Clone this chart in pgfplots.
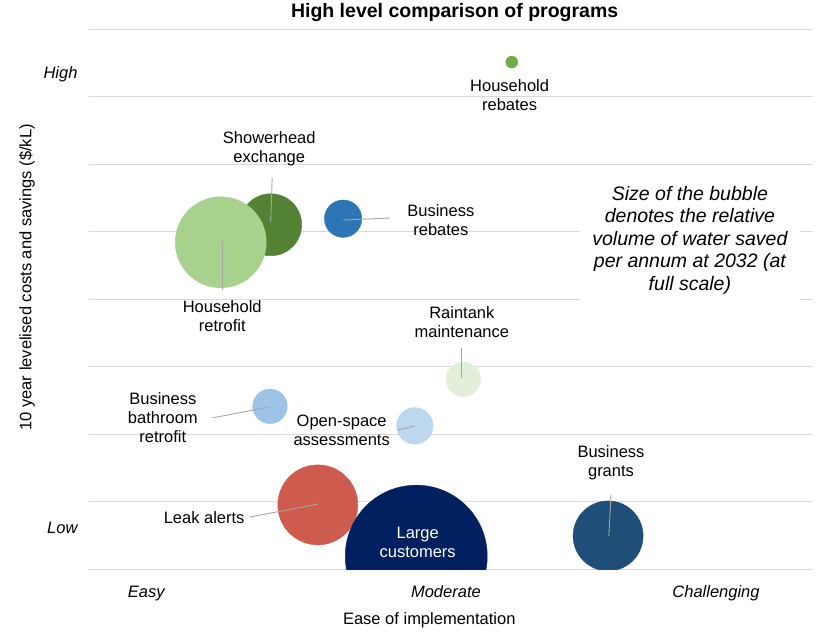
\documentclass[border=0pt]{standalone}
\usepackage{fontspec}
\setmainfont{Liberation Sans}
\usepackage{pgfplots}
\pgfplotsset{compat=1.18}
\definecolor{gridgray}{HTML}{D9D9D9}
\definecolor{leadgray}{HTML}{A6A6A6}
\definecolor{cHRb}{HTML}{70AD47}
\definecolor{cShw}{HTML}{548235}
\definecolor{cHRt}{HTML}{A9D18E}
\definecolor{cBRb}{HTML}{2E75B6}
\definecolor{cRain}{HTML}{E2EFDA}
\definecolor{cBBath}{HTML}{9DC3E6}
\definecolor{cOpen}{HTML}{BDD7EE}
\definecolor{cLeak}{HTML}{CD5C4E}
\definecolor{cLarge}{HTML}{002060}
\definecolor{cGrant}{HTML}{1F4E79}
\newcommand{\lab}{\fontsize{16.5}{19}\selectfont}
\begin{document}
\begin{tikzpicture}
\useasboundingbox (-89pt,-72pt) rectangle (736pt,569pt);
\begin{axis}[
  at={(0pt,0pt)}, anchor=south west,
  scale only axis, width=724pt, height=540pt,
  xmin=0, xmax=10, ymin=0, ymax=8,
  axis line style={draw=none},
  major tick length=0pt,
  xtick={0.79,4.93,8.66}, xticklabels={Easy,Moderate,Challenging},
  ytick={0.53,7.26}, yticklabels={Low,High},
  xticklabel style={font=\lab\itshape, anchor=base, yshift=-28pt},
  yticklabel style={font=\lab\itshape, anchor=base east, xshift=-8pt},
  extra y ticks={0,1,2,3,4,5,6,7,8}, extra y tick labels={},
  extra y tick style={grid=major},
  major grid style={color=gridgray, line width=1pt},
  title={High level comparison of programs},
  title style={font=\fontsize{19.5}{22}\selectfont\bfseries, at={(axis description cs:0.505,1)}, anchor=base, yshift=6pt},
  xlabel={Ease of implementation},
  xlabel style={font=\lab, at={(axis description cs:0.47,0)}, anchor=base, yshift=-55pt},
  ylabel={10 year levelised costs and savings (\$/kL)},
  ylabel style={font=\lab, at={(axis description cs:-0.0856,0.54)}, anchor=center},
  clip=true,
  clip marker paths=true,
]
% bubbles: (ease, cost), radius in pt
\addplot[only marks, mark=*, mark size=6pt, color=cHRb] coordinates {(5.84,7.51)};
\addplot[only marks, mark=*, mark size=31pt, color=cShw] coordinates {(2.51,5.10)};
\addplot[only marks, mark=*, mark size=45.5pt, color=cHRt] coordinates {(1.82,4.84)};
\addplot[only marks, mark=*, mark size=18.7pt, color=cBRb] coordinates {(3.51,5.19)};
\addplot[only marks, mark=*, mark size=17.3pt, color=cRain] coordinates {(5.17,2.81)};
\addplot[only marks, mark=*, mark size=17.3pt, color=cBBath] coordinates {(2.50,2.41)};
\addplot[only marks, mark=*, mark size=18.3pt, color=cOpen] coordinates {(4.50,2.12)};
\addplot[only marks, mark=*, mark size=40pt, color=cLeak] coordinates {(3.16,0.95)};
\addplot[only marks, mark=*, mark size=71pt, color=cLarge] coordinates {(4.52,0.19)};
\addplot[only marks, mark=*, mark size=35pt, color=cGrant] coordinates {(7.17,0.49)};
% leader lines
\addplot[leadgray, line width=0.9pt, no marks] coordinates {(2.53,5.79) (2.51,5.13)};
\addplot[leadgray, line width=0.9pt, no marks] coordinates {(3.51,5.17) (4.16,5.20)};
\addplot[leadgray, line width=0.9pt, no marks] coordinates {(1.84,4.84) (1.84,4.13)};
\addplot[leadgray, line width=0.9pt, no marks] coordinates {(5.15,3.27) (5.15,2.83)};
\addplot[leadgray, line width=0.9pt, no marks] coordinates {(1.71,2.24) (2.49,2.40)};
\addplot[leadgray, line width=0.9pt, no marks] coordinates {(4.27,2.06) (4.50,2.12)};
\addplot[leadgray, line width=0.9pt, no marks] coordinates {(2.22,0.77) (3.16,0.96)};
\addplot[leadgray, line width=0.9pt, no marks] coordinates {(7.21,1.10) (7.18,0.49)};
% labels
\node[font=\lab, align=center, inner sep=0pt] at (axis cs:5.81,7.02) {Household\\rebates};
\node[font=\lab, align=center, inner sep=0pt] at (axis cs:2.49,6.22) {Showerhead\\exchange};
\node[font=\lab, align=center, inner sep=0pt] at (axis cs:4.86,5.17) {Business\\rebates};
\node[font=\lab, align=center, inner sep=0pt] at (axis cs:1.84,3.75) {Household\\retrofit};
\node[font=\lab, align=center, inner sep=0pt] at (axis cs:5.15,3.66) {Raintank\\maintenance};
\node[font=\lab, align=center, inner sep=0pt] at (axis cs:1.02,2.24) {Business\\bathroom\\retrofit};
\node[font=\lab, align=center, inner sep=0pt] at (axis cs:3.49,2.06) {Open-space\\assessments};
\node[font=\lab, align=center, inner sep=0pt] at (axis cs:1.59,0.76) {Leak alerts};
\node[font=\lab, align=center, inner sep=0pt, text=white] at (axis cs:4.54,0.40) {Large\\customers};
\node[font=\lab, align=center, inner sep=0pt] at (axis cs:7.21,1.57) {Business\\grants};
\node[font=\fontsize{19.5}{22.5}\selectfont\itshape, align=center, fill=white, inner sep=0pt, minimum width=220pt, minimum height=130pt] at (axis cs:8.30,4.87) {Size of the bubble\\denotes the relative\\volume of water saved\\per annum at 2032 (at\\full scale)};
\end{axis}
\end{tikzpicture}
\end{document}
